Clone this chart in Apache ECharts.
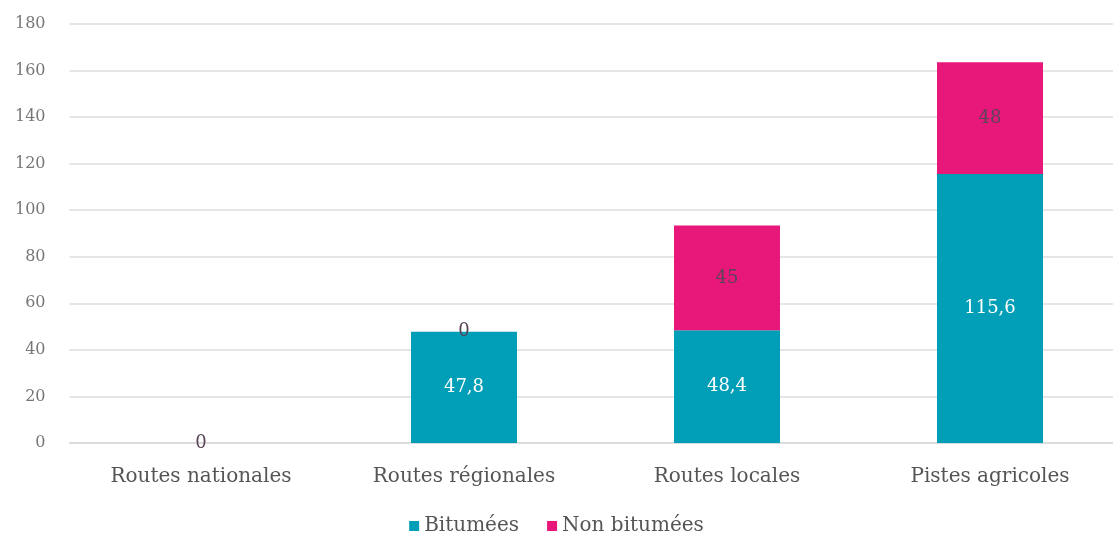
<!DOCTYPE html>
<html>
<head>
<meta charset="utf-8">
<script src="https://cdn.jsdelivr.net/npm/echarts@6/dist/echarts.min.js"></script>
<style>
html, body { margin: 0; padding: 0; background: #fff; }
#chart { width: 1113px; height: 535px; }
</style>
</head>
<body>
<div id="chart"></div>
<script>
// Road network length by category (km)
const categories = ['Routes nationales', 'Routes régionales', 'Routes locales', 'Pistes agricoles'];
const bitumees = [0, 47.8, 48.4, 115.6];
const nonBitumees = [0, 0, 45, 48];
const seriesNames = ['Bitumées', 'Non bitumées'];

const font = '"DejaVu Serif", "Liberation Serif", serif';
const fmt = p => String(p.value).replace('.', ',');

const chart = echarts.init(document.getElementById('chart'), null, { renderer: 'canvas' });
chart.setOption({
  animation: false,
  textStyle: { fontFamily: font },
  grid: { left: 69.5, width: 1052, top: 24, bottom: 92, outerBoundsMode: 'none', containLabel: false },
  legend: {
    bottom: -6,
    left: 'center',
    itemWidth: 10,
    itemHeight: 10,
    itemGap: 28,
    icon: 'rect',
    textStyle: { fontFamily: font, fontSize: 20, color: '#555' },
    data: seriesNames
  },
  xAxis: {
    type: 'category',
    data: categories,
    axisLine: { lineStyle: { color: '#d9d9d9', width: 1.5 } },
    axisTick: { show: false },
    axisLabel: { fontFamily: font, fontSize: 20, color: '#555', margin: 24 }
  },
  yAxis: {
    type: 'value',
    min: 0,
    max: 180,
    interval: 20,
    axisLine: { show: false },
    axisTick: { show: false },
    splitLine: { lineStyle: { color: '#dedede', width: 1.5 } },
    axisLabel: { fontFamily: font, fontSize: 16, color: '#777', margin: 24 }
  },
  series: [
    {
      name: seriesNames[0],
      type: 'bar',
      stack: 'total',
      barWidth: 106,
      data: bitumees,
      itemStyle: { color: '#009FB7' },
      label: {
        show: true, position: 'inside', formatter: fmt,
        fontFamily: font, fontSize: 18, color: '#fff'
      }
    },
    {
      name: seriesNames[1],
      type: 'bar',
      stack: 'total',
      barWidth: 106,
      data: nonBitumees,
      itemStyle: { color: '#E8177A' },
      label: {
        show: true, position: 'inside', formatter: fmt,
        fontFamily: font, fontSize: 18, color: '#5a4458'
      }
    }
  ]
});
</script>
</body>
</html>
